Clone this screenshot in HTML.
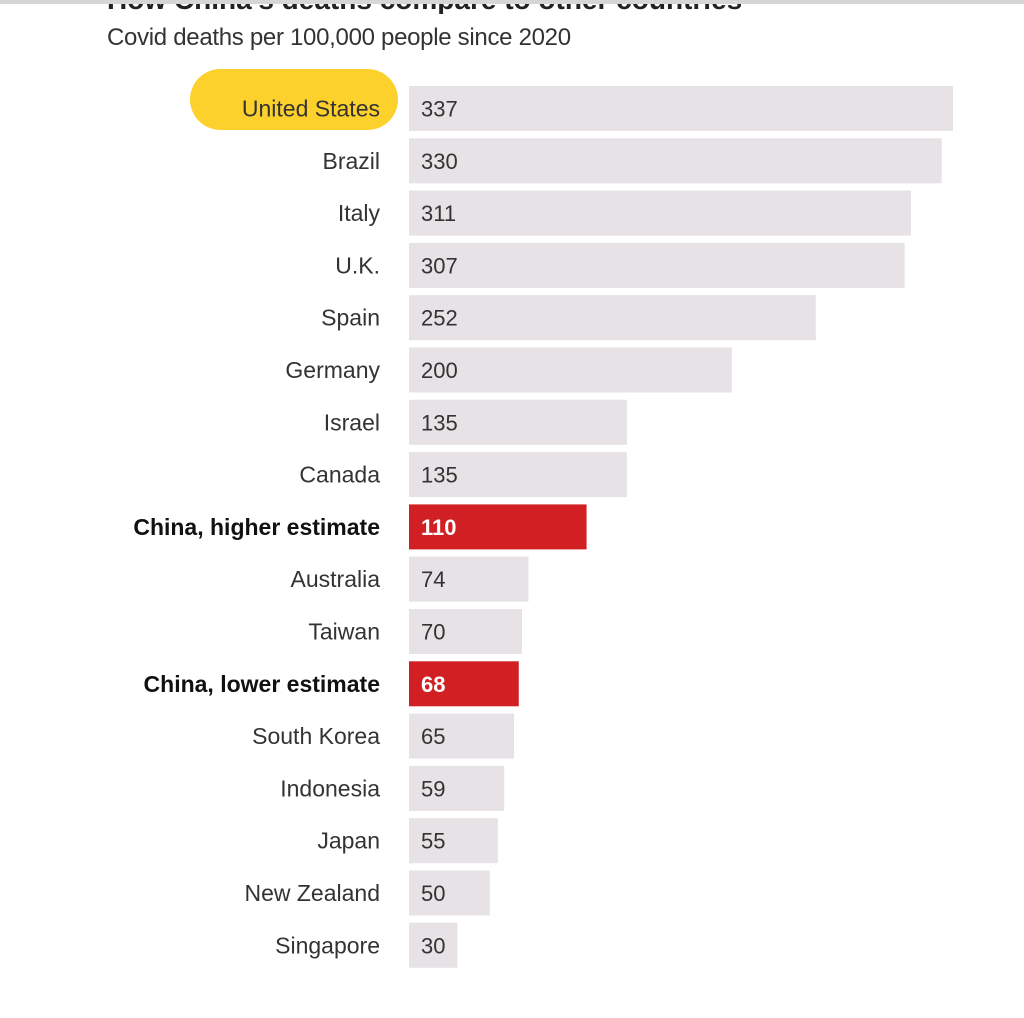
<!DOCTYPE html>
<html><head><meta charset="utf-8"><style>
body{margin:0;width:1024px;height:1018px;background:#fff;position:relative;overflow:hidden;font-family:"Liberation Sans",sans-serif;color:#222}
#topbar{position:absolute;left:0;top:0;width:1024px;height:4px;background:#d6d6d6}
#title-clip{position:absolute;left:107px;top:4px;width:700px;height:10px;overflow:hidden}
#title-clip div{position:absolute;left:0;top:-20px;font-weight:bold;font-size:28px;color:#222;white-space:nowrap}
#subtitle{position:absolute;left:107px;top:24px;font-size:24px;color:#333;letter-spacing:-0.3px}
#chart{position:absolute;left:0;top:0}
</style></head><body>
<div id="topbar"></div>
<div id="title-clip"><div>How China's deaths compare to other countries</div></div>
<div id="subtitle">Covid deaths per 100,000 people since 2020</div>
<svg id="chart" width="1024" height="1018"></svg>
<script>
const categories=["United States","Brazil","Italy","U.K.","Spain","Germany","Israel","Canada","China, higher estimate","Australia","Taiwan","China, lower estimate","South Korea","Indonesia","Japan","New Zealand","Singapore"];
const values=[337,330,311,307,252,200,135,135,110,74,70,68,65,59,55,50,30];
const highlighted=["China, higher estimate","China, lower estimate"];
const ns="http://www.w3.org/2000/svg";
const svg=document.getElementById('chart');
const x0=409, pxPer=544/337, y0=86, pitch=52.3, bh=45;
const xScale=v=>v*pxPer;
const yScale=i=>y0+i*pitch;
function mk(t,a){const e=document.createElementNS(ns,t);for(const k in a)e.setAttribute(k,a[k]);svg.appendChild(e);return e;}
const pill=mk('rect',{x:190,y:69,width:208,height:61,rx:30.5,fill:'#fdd12b'});


categories.forEach((c,i)=>{
  const y=yScale(i), hi=highlighted.includes(c);
  const r=mk('rect',{x:x0,y:y,width:xScale(values[i]),height:bh,fill:hi?'#d02023':'#e6e2e5'});
  
  
  const l=mk('text',{x:380,y:y+bh/2+8,'text-anchor':'end','font-size':23,fill:hi?'#111':'#333','font-weight':hi?'bold':'normal'});
  l.textContent=c;
  
  
  const v=mk('text',{x:421,y:y+bh/2+8,'font-size':22,fill:hi?'#fff':'#333','font-weight':hi?'bold':'normal'});
  v.textContent=values[i];
  
  
});
</script>
</body></html>
